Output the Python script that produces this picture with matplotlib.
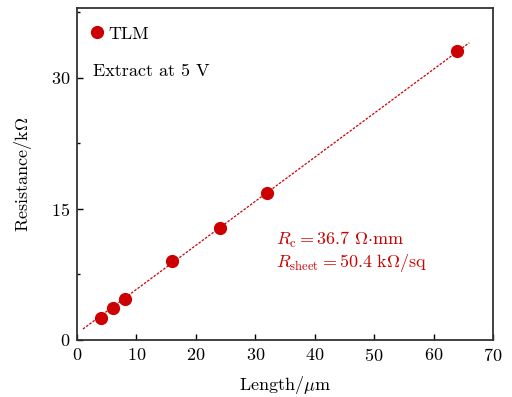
import matplotlib
matplotlib.use("Agg")
import matplotlib.pyplot as plt
from matplotlib.ticker import MultipleLocator
import numpy as np

# TLM data
lengths = [4, 6, 8, 16, 24, 32, 64]           # um
resistances = [2.5, 3.7, 4.7, 9.05, 12.8, 16.8, 33.1]  # kOhm

# Linear fit shown as dashed line
fit_slope = 0.504
fit_intercept = 0.75
fit_range = [1, 66]

red = "#cc0000"


def main() -> None:
    plt.rcParams["font.family"] = ["cmr10", "DejaVu Serif"]
    plt.rcParams["mathtext.fontset"] = "cm"
    plt.rcParams["axes.formatter.use_mathtext"] = True

    fig = plt.figure(figsize=(5.12, 3.97), dpi=100)
    ax = fig.add_axes([0.1504, 0.1436, 0.8126, 0.8364])

    fx = np.array(fit_range)
    ax.plot(fx, fit_slope * fx + fit_intercept, color=red, lw=0.9,
            ls=(0, (2, 1.2)))
    ax.plot(lengths, resistances, "o", color=red, ms=8.5, mec=red,
            label="TLM")

    ax.set_xlim(0, 70)
    ax.set_ylim(0, 38)
    ax.xaxis.set_major_locator(MultipleLocator(10))
    ax.yaxis.set_major_locator(MultipleLocator(15))
    ax.yaxis.set_minor_locator(MultipleLocator(7.5))
    ax.tick_params(direction="in", labelsize=13, length=4, width=1, pad=5)
    ax.tick_params(which="minor", direction="in", length=2.5, width=1)
    for sp in ax.spines.values():
        sp.set_linewidth(1.3)
        sp.set_color("#333333")

    ax.set_xlabel(r"Length/$\mu$m", fontsize=13, labelpad=7)
    ax.set_ylabel(r"Resistance/k$\Omega$", fontsize=13, labelpad=12)

    ax.legend(loc="upper left", frameon=False, fontsize=13,
              handletextpad=0.05, borderaxespad=0.6, markerscale=1.0,
              handlelength=1.2, bbox_to_anchor=(-0.022, 1.0))
    ax.text(0.038, 0.81, "Extract at 5 V", transform=ax.transAxes,
            fontsize=13, va="center")
    ax.text(0.478, 0.30, r"$R_{\rm c} = 36.7\ \Omega{\cdot}{\rm mm}$",
            transform=ax.transAxes, fontsize=13, color=red, va="center")
    ax.text(0.478, 0.232, r"$R_{\rm sheet} = 50.4\ {\rm k}\Omega/{\rm sq}$",
            transform=ax.transAxes, fontsize=13, color=red, va="center")

    fig.savefig("out.png", dpi=100)


if __name__ == "__main__":
    main()
